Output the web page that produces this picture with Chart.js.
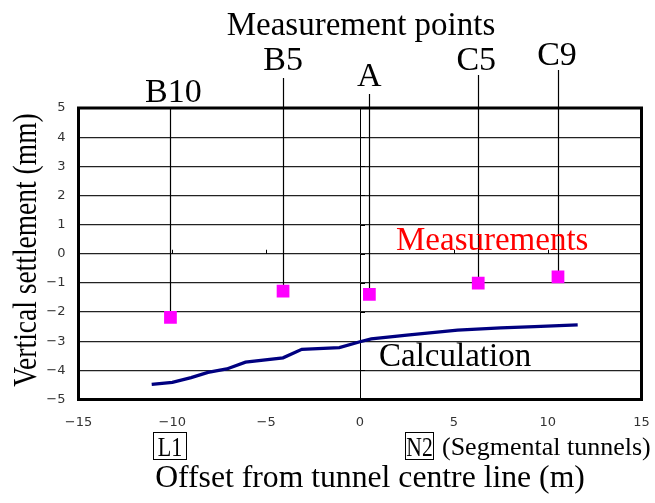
<!DOCTYPE html>
<html>
<head>
<meta charset="utf-8">
<script src="https://cdn.jsdelivr.net/npm/chart.js@4/dist/chart.umd.min.js"></script>
<style>
  html, body { margin: 0; padding: 0; background: #fff; }
  #wrap { width: 655px; height: 503px; position: relative; }
</style>
</head>
<body>
<div id="wrap"><canvas id="c" width="655" height="503"></canvas></div>
<script>
// ---- data ----
const calcX = [-11.1, -10.0, -9.0, -8.1, -7.1, -6.1, -4.1, -3.1, -1.1, 0.0, 0.6, 2.5, 5.2, 7.5, 9.3, 11.6];
const calcY = [-4.48, -4.41, -4.25, -4.07, -3.95, -3.72, -3.57, -3.28, -3.22, -3.02, -2.92, -2.79, -2.62, -2.54, -2.50, -2.44];
const pointNames = ['B10', 'B5', 'A', 'C5', 'C9'];
const pointX = [-10.1, -4.1, 0.5, 6.3, 10.55];
const pointY = [-2.18, -1.28, -1.39, -1.01, -0.79];
const xTicks = [-15, -10, -5, 0, 5, 10, 15];
const yTicks = [-5, -4, -3, -2, -1, 0, 1, 2, 3, 4, 5];

// ---- layout / style (not data) ----
const SERIF = '"Liberation Serif", "Times New Roman", serif';
const leaderTop = { B10: 108, B5: 78, A: 94, C5: 75, C9: 70 };      // pixel tops of leader lines
const labelBase = { B10: 102, B5: 70, A: 86, C5: 70, C9: 65 };      // label baselines
const labelDx = { B10: 3, B5: 0, A: 0, C5: -2, C9: -1 };

const fmt = v => String(v).replace('-', '\u2212');

const annot = {
  id: 'annot',
  beforeDatasetsDraw(chart) {
    const ctx = chart.ctx, a = chart.chartArea;
    const xs = chart.scales.x, ys = chart.scales.y;
    ctx.save();
    // small crossing ticks on the axes through zero
    ctx.strokeStyle = '#000'; ctx.lineWidth = 1;
    const y0 = ys.getPixelForValue(0), x0 = xs.getPixelForValue(0);
    xTicks.forEach(v => {
      if (v === 0 || v === -15 || v === 15) return;
      const px = Math.round(xs.getPixelForValue(v)) + 0.5;
      ctx.beginPath(); ctx.moveTo(px, y0); ctx.lineTo(px, y0 - 4); ctx.stroke();
    });
    yTicks.forEach(v => {
      if (v === -5 || v === 5) return;
      const py = Math.round(ys.getPixelForValue(v)) + 0.5;
      ctx.beginPath(); ctx.moveTo(x0, py); ctx.lineTo(x0 + 5, py); ctx.stroke();
    });
    // leader lines from label to marker
    ctx.strokeStyle = '#000'; ctx.lineWidth = 1.2;
    pointNames.forEach((n, i) => {
      const px = Math.round(xs.getPixelForValue(pointX[i])) + 0.5;
      const py = ys.getPixelForValue(pointY[i]);
      ctx.beginPath(); ctx.moveTo(px, leaderTop[n]); ctx.lineTo(px, py); ctx.stroke();
    });
    // plot frame
    ctx.lineWidth = 3; ctx.strokeStyle = '#000';
    ctx.strokeRect(a.left, a.top, a.right - a.left, a.bottom - a.top);
    ctx.restore();
  },
  afterDraw(chart) {
    const ctx = chart.ctx;
    const xs = chart.scales.x;
    ctx.save();
    ctx.fillStyle = '#000';
    ctx.textAlign = 'center';
    ctx.textBaseline = 'alphabetic';
    ctx.font = '33px ' + SERIF;
    ctx.fillText('Measurement points', 361, 35);
    ctx.font = '34px ' + SERIF;
    pointNames.forEach((n, i) => {
      ctx.fillText(n, xs.getPixelForValue(pointX[i]) + labelDx[n], labelBase[n]);
    });
    // series labels
    ctx.textAlign = 'left';
    ctx.fillStyle = '#ff0000';
    ctx.font = '33px ' + SERIF;
    ctx.fillText('Measurements', 396, 250);
    ctx.fillStyle = '#000';
    ctx.fillText('Calculation', 379, 366);
    // x axis title
    ctx.textAlign = 'center';
    ctx.font = '31.7px ' + SERIF;
    ctx.fillText('Offset from tunnel centre line (m)', 370, 487);
    // boxed tunnel labels
    ctx.lineWidth = 1; ctx.strokeStyle = '#000';
    ctx.strokeRect(153.5, 432.5, 33, 27);
    ctx.strokeRect(405.5, 432.5, 28, 27);
    ctx.font = '27px ' + SERIF;
    ctx.save(); ctx.translate(170, 456); ctx.scale(0.82, 1); ctx.fillText('L1', 0, 0); ctx.restore();
    ctx.save(); ctx.translate(419.5, 456); ctx.scale(0.8, 1); ctx.fillText('N2', 0, 0); ctx.restore();
    ctx.textAlign = 'left';
    ctx.font = '26px ' + SERIF;
    ctx.fillText('(Segmental tunnels)', 442, 455);
    // y axis title
    ctx.save();
    ctx.translate(36, 250);
    ctx.rotate(-Math.PI / 2);
    ctx.scale(1, 1.2);
    ctx.textAlign = 'center';
    ctx.font = '27.5px ' + SERIF;
    ctx.fillText('Vertical settlement (mm)', 0, 0);
    ctx.restore();
    ctx.restore();
  }
};

new Chart(document.getElementById('c'), {
  type: 'scatter',
  data: {
    datasets: [
      {
        label: 'Calculation',
        type: 'line',
        data: calcX.map((x, i) => ({ x, y: calcY[i] })),
        borderColor: '#000080',
        borderWidth: 3.2,
        pointRadius: 0,
        tension: 0,
        fill: false,
        order: 2
      },
      {
        label: 'Measurements',
        data: pointX.map((x, i) => ({ x, y: pointY[i] })),
        backgroundColor: '#ff00ff',
        borderColor: '#ff00ff',
        borderWidth: 0,
        pointStyle: 'rect',
        pointRadius: 9,
        order: 1
      }
    ]
  },
  options: {
    responsive: false,
    animation: false,
    devicePixelRatio: 1,
    layout: { padding: { top: 108, right: 13.5, left: 0, bottom: 0 } },
    plugins: { legend: { display: false }, tooltip: { enabled: false } },
    scales: {
      x: {
        type: 'linear',
        min: -15, max: 15,
        afterBuildTicks: s => { s.ticks = xTicks.map(v => ({ value: v })); },
        afterFit: s => { s.height = 103.5; },
        border: { display: false },
        grid: {
          drawTicks: true,
          tickLength: 15,
          tickColor: 'rgba(0,0,0,0)',
          color: c => (c.tick && c.tick.value === 0) ? '#000' : 'rgba(0,0,0,0)',
          lineWidth: 1
        },
        ticks: {
          padding: 0,
          color: '#333',
          font: { family: '"DejaVu Sans", sans-serif', size: 13 },
          callback: v => fmt(v),
          maxRotation: 0
        }
      },
      y: {
        type: 'linear',
        min: -5, max: 5,
        afterBuildTicks: s => { s.ticks = yTicks.map(v => ({ value: v })); },
        afterFit: s => { s.width = 78.5; },
        border: { display: false },
        grid: { drawTicks: false, color: '#222', lineWidth: 1.2 },
        ticks: {
          padding: 13,
          color: '#333',
          font: { family: '"DejaVu Sans", sans-serif', size: 13 },
          callback: v => fmt(v)
        }
      }
    }
  },
  plugins: [annot]
});
</script>
</body>
</html>
